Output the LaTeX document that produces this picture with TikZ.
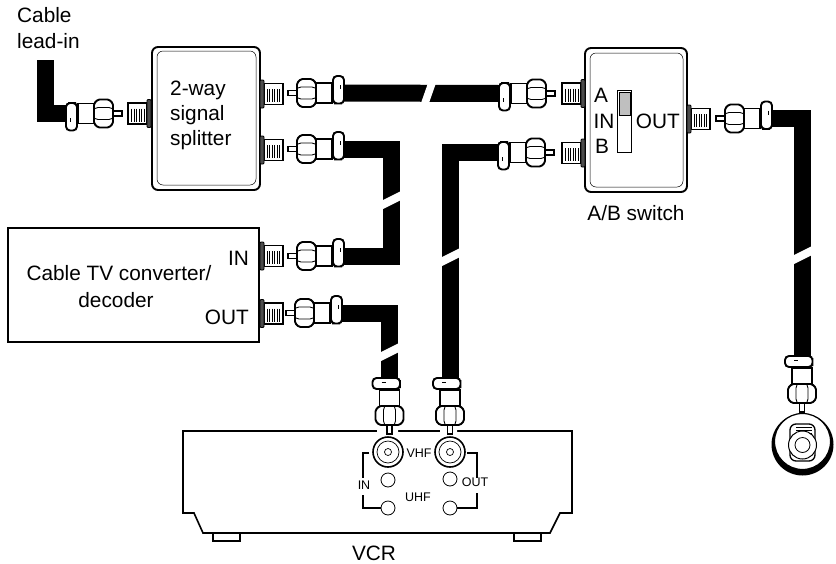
\documentclass[tikz,border=0pt]{standalone}
\usepackage{fontspec}
\setmainfont{Liberation Sans}
\tikzset{
  cable/.style={line width=17pt,black},
  part/.style={line width=1.9pt,fill=white,draw=black},
  box/.style={draw,line width=1.9pt,fill=white,inner sep=0pt,rounded corners=6pt},
  innerbox/.style={line width=0.5pt,rounded corners=6pt},
  label/.style={font=\fontsize{20.8}{21}\selectfont,inner sep=0pt},
  smalllabel/.style={font=\fontsize{12.5}{13}\selectfont,inner sep=0pt},
  port/.style={draw,line width=0.8pt,fill=white,circle,inner sep=0pt,minimum size=14pt},
  bracket/.style={line width=1.6pt},
  plug/.pic={
    \draw[part] (-9,-2.5) rectangle (0,2.5); % pin
    \draw[part] (-44,-10) rectangle (-27,10);
    \draw[part,rounded corners=1.5pt] (-28,0)--(-28,-10)--(-24,-14)--(-13,-14)--(-9,-10)--(-9,10)--(-13,14)--(-24,14)--(-28,10)--cycle;
    \draw[line width=0.9pt] (-27,-5)--(-24,-6)--(-13,-6)--(-10,-5) (-27,5)--(-24,6)--(-13,6)--(-10,5);
    \draw[part,rounded corners=4pt] (-50,10.5)--(-56,10.5)--(-56,-17)--(-45,-17)--(-45,10.5)--cycle;
    \draw[line width=0.6pt] (-52,-8)--(-52,-4);
    \coordinate (-tail) at (-56,0);
  },
  jack/.pic={
    \draw[part] (4,-10.5) rectangle (23,10.5); % thread
    \foreach \tx in {7,9.5,...,21} \draw[line width=0.7pt] (\tx,-5)--(\tx,8);
    \draw[line width=0.9pt,fill=black!70,rounded corners=1pt] (0,-14) rectangle (4,14);
  },
  gapmark/.pic={
    \fill[white] (-10,0)--(10,-10)--(10,-1)--(-10,9)--cycle;
  }
}
\begin{document}
\begin{tikzpicture}[x=1pt,y=-1pt]
  \useasboundingbox (0,0) rectangle (836,563);
  % boxes
  \node[box,minimum width=108pt,minimum height=143pt] (splitter) at (206,118.5) {};
  \draw[innerbox] (157,51) rectangle (256,185);
  \node[box,minimum width=102pt,minimum height=144pt] (abswitch) at (636,120) {};
  \draw[innerbox] (590,53) rectangle (683,187);
  \node[box,rounded corners=0pt,line width=1.7pt,minimum width=251pt,minimum height=114pt] (converter) at (133.5,285) {};
  % vcr cabinet
  \draw[line width=1.6pt] (213,533)--(213,541)--(240,541)--(240,533) (514,533)--(514,541)--(541,541)--(541,533);
  \draw[line width=1.6pt,fill=white] (183,431)--(572,431)--(572,513)--(560,513)--(550,533)--(203,533)--(194,513)--(183,513)--cycle;
  \fill[white] (377,429) rectangle (398,433) (440,429) rectangle (457,433);
  % jacks
  \pic[xscale=-1] at (151,113.5) {jack};
  \pic at (260,94) {jack};
  \pic at (260,150) {jack};
  \pic at (260,256) {jack};
  \pic at (260,313.5) {jack};
  \pic[xscale=-1] at (585,93.5) {jack};
  \pic[xscale=-1] at (585,153) {jack};
  \pic at (687,119) {jack};
  % plugs
  \pic[yscale=-1] (leadplug) at (122,113.5) {plug};
  \pic[xscale=-1] (splita) at (288,93) {plug};
  \pic[xscale=-1] (splitb) at (288,149) {plug};
  \pic[xscale=-1] (convin) at (288,256) {plug};
  \pic[xscale=-1] (convout) at (286,313) {plug};
  \pic[yscale=-1] (swa) at (555,93.5) {plug};
  \pic[yscale=-1] (swb) at (554,152.5) {plug};
  \pic[xscale=-1] (swout) at (716,118.5) {plug};
  \pic[rotate=-90,yscale=-1] (vcrin) at (389.5,434) {plug};
  \pic[rotate=-90,yscale=-1] (vcrout) at (450,434) {plug};
  \pic[rotate=-90,yscale=-1] (tvplug) at (802,412) {plug};
  % cables
  \coordinate (leadtop) at (45.5,60);
  \draw[cable] (leadtop) |- (leadplug-tail);
  \draw[cable] (splita-tail) -- (swa-tail);
  \draw[cable] (splitb-tail) -| (391,201) |- (convin-tail);
  \draw[cable] (convout-tail) -| (vcrin-tail);
  \draw[cable] (swb-tail) -| (vcrout-tail);
  \draw[cable] (swout-tail) -| (tvplug-tail);
  \fill[white] (428,83)--(436,83)--(429,103)--(421,103)--cycle;
  \pic at (391,201) {gapmark};
  \pic at (390,352.5) {gapmark};
  \pic at (450,258) {gapmark};
  \pic at (802,256) {gapmark};
  % switch slider
  \draw[line width=0.8pt] (617,90) rectangle (631,152);
  \fill[black!25] (619,92) rectangle (630,115);
  \draw[line width=0.5pt] (619,92) rectangle (630,115);
  % vcr panel
  \node[draw,line width=1.6pt,circle,inner sep=0pt,minimum size=30pt] (vhfin) at (388,452) {};
  \node[draw,line width=0.7pt,circle,inner sep=0pt,minimum size=22pt] (vhfinb) at (388,452) {};
  \node[draw,line width=0.7pt,circle,inner sep=0pt,minimum size=7pt] (vhfinc) at (388,452) {};
  \node[draw,line width=1.6pt,circle,inner sep=0pt,minimum size=30pt] (vhfout) at (450,452) {};
  \node[draw,line width=0.7pt,circle,inner sep=0pt,minimum size=22pt] (vhfoutb) at (450,452) {};
  \node[draw,line width=0.7pt,circle,inner sep=0pt,minimum size=7pt] (vhfoutc) at (450,452) {};
  \node[port] (portin) at (388,480) {};
  \node[port] (portout) at (450,479) {};
  \node[port] (uhfin) at (388,508) {};
  \node[port] (uhfout) at (450,508) {};
  \draw[bracket] (369,453) -- (363,453) -- (363,478);
  \draw[bracket] (363,495) |- (uhfin.west);
  \draw[bracket] (467,453) -- (477,453) -- (477,478);
  \draw[bracket] (477,493) |- (uhfout.east);
  % tv terminal
  \fill[black] (802.5,444.5) circle (31);
  \draw[line width=1.2pt,fill=white] (802.5,441.5) circle (28);
  \draw[line width=1.3pt,fill=white,rounded corners=6pt] (790,424) rectangle (815,461);
  \foreach \ty in {427,430,...,436} \draw[line width=0.6pt] (796,\ty)--(812,\ty);
  \node[draw,line width=1pt,circle,inner sep=0pt,minimum size=28pt,fill=white] (tvring) at (802.5,445) {};
  \node[draw,line width=0.8pt,circle,inner sep=0pt,minimum size=15pt] (tvcore) at (802.5,445) {};
  % labels
  \node[label,anchor=west] (leadcable) at (17,15) {Cable};
  \node[label,anchor=west] (leadin) at (17,41) {lead-in};
  \node[label,anchor=west] (way) at (170,90) {2-way};
  \node[label,anchor=west] (signal) at (170,115) {signal};
  \node[label,anchor=west] (split) at (170,140) {splitter};
  \node[label] (swname) at (636,213) {A/B switch};
  \node[label] (swA) at (601,95) {A};
  \node[label] (swIN) at (604,121) {IN};
  \node[label] (swB) at (602,146) {B};
  \node[label,anchor=east] (swOUT) at (680,121) {OUT};
  \node[label] (convtext) at (119,273) {Cable TV converter/};
  \node[label] (decoder) at (116,300) {decoder};
  \node[label,anchor=east] (convIN) at (249,258) {IN};
  \node[label,anchor=east] (convOUT) at (249,317) {OUT};
  \node[label] (vcrname) at (374,553) {VCR};
  \node[smalllabel] (vhf) at (419,453) {VHF};
  \node[smalllabel] (uhf) at (418,497) {UHF};
  \node[smalllabel] (inlabel) at (364,485) {IN};
  \node[smalllabel] (outlabel) at (475,482) {OUT};
\end{tikzpicture}
\end{document}
